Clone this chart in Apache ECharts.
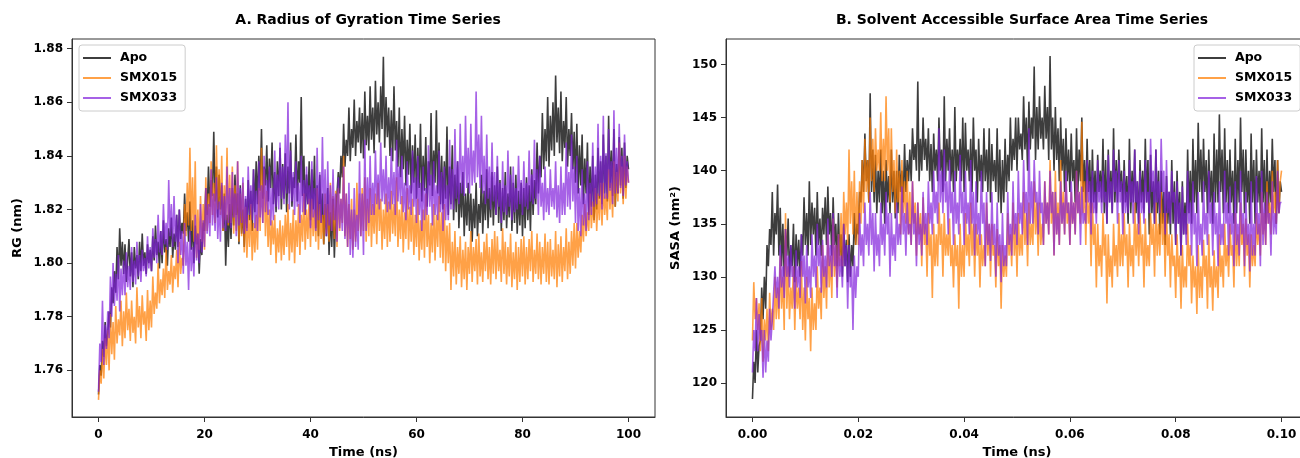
<!DOCTYPE html>
<html>
<head>
<meta charset="utf-8">
<script src="https://cdn.jsdelivr.net/npm/echarts@6/dist/echarts.min.js"></script>
<style>html,body{margin:0;padding:0;background:#fff}#c{width:1300px;height:458px}</style>
</head>
<body>
<div id="c"></div>
<script>
// ---------- DATA ----------
const seriesNames = ['Apo', 'SMX015', 'SMX033'];
const rgStepNs = 0.25;      // sampling step of RG values (ns)
const sasaStepNs = 0.00025; // sampling step of SASA values (ns)
const rgTicksX = [0, 20, 40, 60, 80, 100];
const rgTicksY = [1.76, 1.78, 1.80, 1.82, 1.84, 1.86, 1.88];
const sasaTicksX = [0.00, 0.02, 0.04, 0.06, 0.08, 0.10];
const sasaTicksY = [120, 125, 130, 135, 140, 145, 150];

const rgApo = [
1.751,1.762,1.758,1.771,1.765,1.778,1.769,1.774,1.782,1.776,1.791,1.785,1.797,1.789,1.806,1.794,1.813,1.799,1.808,1.796,
1.807,1.793,1.801,1.809,1.795,1.804,1.791,1.806,1.798,1.803,1.794,1.808,1.797,1.811,1.799,1.804,1.796,1.807,1.800,1.805,
1.797,1.810,1.801,1.814,1.803,1.808,1.798,1.812,1.800,1.816,1.804,1.809,1.799,1.813,1.806,1.817,1.802,1.811,1.805,1.818,
1.806,1.820,1.809,1.815,1.811,1.826,1.812,1.819,1.808,1.823,1.805,1.816,1.800,1.814,1.807,1.811,1.796,1.809,1.803,1.815,
1.812,1.828,1.818,1.836,1.821,1.831,1.825,1.849,1.823,1.836,1.817,1.833,1.820,1.829,1.812,1.826,1.799,1.818,1.806,1.822,
1.809,1.828,1.814,1.833,1.818,1.826,1.807,1.829,1.811,1.820,1.806,1.824,1.813,1.831,1.816,1.827,1.812,1.835,1.819,1.838,
1.822,1.840,1.827,1.850,1.824,1.836,1.829,1.844,1.823,1.839,1.828,1.845,1.822,1.834,1.819,1.838,1.825,1.843,1.820,1.837,
1.824,1.841,1.819,1.836,1.826,1.845,1.821,1.832,1.828,1.848,1.823,1.838,1.830,1.862,1.825,1.840,1.818,1.833,1.822,1.838,
1.816,1.835,1.820,1.840,1.813,1.829,1.810,1.833,1.815,1.826,1.807,1.822,1.810,1.828,1.803,1.819,1.806,1.824,1.802,1.818,
1.818,1.834,1.826,1.840,1.832,1.852,1.836,1.846,1.840,1.858,1.838,1.850,1.843,1.861,1.840,1.853,1.845,1.858,1.841,1.856,
1.839,1.864,1.844,1.855,1.842,1.866,1.846,1.858,1.841,1.868,1.848,1.860,1.845,1.866,1.850,1.877,1.843,1.862,1.847,1.858,
1.840,1.857,1.838,1.866,1.842,1.853,1.836,1.858,1.832,1.850,1.835,1.855,1.829,1.846,1.833,1.852,1.826,1.844,1.830,1.848,
1.824,1.843,1.828,1.852,1.823,1.840,1.827,1.847,1.821,1.838,1.829,1.856,1.825,1.842,1.830,1.857,1.826,1.845,1.822,1.840,
1.820,1.838,1.824,1.851,1.818,1.836,1.822,1.844,1.816,1.833,1.819,1.838,1.813,1.830,1.817,1.834,1.810,1.826,1.814,1.830,
1.812,1.826,1.808,1.824,1.813,1.830,1.810,1.822,1.815,1.833,1.811,1.827,1.816,1.835,1.813,1.828,1.817,1.834,1.814,1.829,
1.818,1.836,1.815,1.831,1.812,1.828,1.816,1.834,1.813,1.826,1.817,1.836,1.812,1.830,1.815,1.833,1.811,1.827,1.814,1.830,
1.810,1.828,1.813,1.832,1.816,1.829,1.812,1.835,1.818,1.831,1.822,1.845,1.826,1.840,1.832,1.856,1.835,1.850,1.838,1.862,
1.836,1.855,1.842,1.860,1.840,1.870,1.845,1.858,1.841,1.864,1.838,1.853,1.843,1.862,1.836,1.850,1.840,1.856,1.835,1.849,
1.830,1.852,1.826,1.844,1.829,1.848,1.822,1.839,1.826,1.845,1.818,1.836,1.821,1.840,1.816,1.833,1.820,1.843,1.824,1.838,
1.822,1.848,1.826,1.840,1.823,1.855,1.828,1.842,1.825,1.850,1.821,1.837,1.826,1.847,1.829,1.843,1.824,1.845,1.828,1.840,
1.835];

const rgSMX015 = [
1.749,1.760,1.755,1.768,1.757,1.772,1.762,1.775,1.760,1.781,1.766,1.778,1.764,1.784,1.770,1.779,1.773,1.786,1.769,1.782,
1.772,1.789,1.775,1.783,1.771,1.786,1.774,1.780,1.770,1.791,1.776,1.784,1.772,1.788,1.777,1.782,1.771,1.790,1.775,1.786,
1.776,1.795,1.781,1.789,1.783,1.800,1.785,1.794,1.788,1.798,1.787,1.806,1.790,1.797,1.792,1.803,1.789,1.799,1.794,1.805,
1.791,1.808,1.796,1.802,1.799,1.822,1.810,1.830,1.814,1.843,1.812,1.832,1.808,1.838,1.802,1.820,1.805,1.825,1.808,1.822,
1.805,1.832,1.812,1.826,1.815,1.838,1.818,1.830,1.815,1.844,1.820,1.835,1.818,1.840,1.812,1.829,1.816,1.843,1.814,1.833,
1.815,1.836,1.811,1.829,1.812,1.838,1.808,1.826,1.810,1.830,1.804,1.821,1.802,1.818,1.806,1.822,1.801,1.815,1.804,1.818,
1.805,1.828,1.812,1.843,1.815,1.835,1.810,1.827,1.806,1.820,1.803,1.816,1.807,1.818,1.800,1.813,1.804,1.816,1.801,1.814,
1.803,1.818,1.806,1.822,1.801,1.815,1.804,1.820,1.800,1.816,1.806,1.822,1.803,1.818,1.808,1.826,1.805,1.820,1.809,1.824,
1.806,1.824,1.810,1.820,1.808,1.828,1.805,1.822,1.809,1.818,1.807,1.826,1.811,1.822,1.808,1.830,1.812,1.825,1.809,1.827,
1.806,1.828,1.812,1.824,1.815,1.840,1.810,1.826,1.806,1.822,1.809,1.824,1.805,1.820,1.808,1.830,1.812,1.826,1.810,1.828,
1.812,1.832,1.808,1.824,1.810,1.828,1.806,1.822,1.811,1.826,1.807,1.830,1.812,1.824,1.805,1.820,1.809,1.826,1.806,1.823,
1.808,1.827,1.811,1.822,1.810,1.832,1.806,1.820,1.809,1.825,1.804,1.819,1.809,1.828,1.805,1.821,1.808,1.824,1.803,1.818,
1.806,1.824,1.801,1.816,1.805,1.820,1.802,1.826,1.806,1.818,1.800,1.815,1.804,1.822,1.801,1.818,1.806,1.825,1.802,1.819,
1.800,1.822,1.797,1.814,1.800,1.815,1.790,1.808,1.795,1.812,1.792,1.806,1.796,1.810,1.791,1.805,1.794,1.808,1.790,1.806,
1.796,1.812,1.793,1.806,1.797,1.809,1.792,1.811,1.795,1.804,1.793,1.808,1.797,1.811,1.794,1.806,1.792,1.809,1.796,1.812,
1.794,1.810,1.797,1.805,1.793,1.813,1.796,1.808,1.792,1.806,1.795,1.811,1.791,1.804,1.794,1.808,1.790,1.806,1.793,1.809,
1.795,1.810,1.792,1.806,1.794,1.809,1.797,1.812,1.793,1.805,1.796,1.811,1.794,1.808,1.792,1.806,1.796,1.811,1.793,1.808,
1.792,1.809,1.795,1.805,1.794,1.812,1.791,1.807,1.795,1.810,1.793,1.806,1.797,1.813,1.794,1.808,1.796,1.812,1.799,1.815,
1.798,1.815,1.802,1.812,1.804,1.818,1.808,1.822,1.810,1.819,1.812,1.826,1.813,1.823,1.815,1.828,1.812,1.826,1.816,1.830,
1.814,1.830,1.818,1.826,1.816,1.835,1.820,1.830,1.817,1.838,1.821,1.834,1.823,1.845,1.826,1.836,1.822,1.840,1.824,1.836,
1.830];

const rgSMX033 = [
1.752,1.770,1.763,1.786,1.762,1.777,1.768,1.782,1.772,1.795,1.780,1.800,1.784,1.796,1.786,1.803,1.782,1.798,1.788,1.801,
1.788,1.804,1.791,1.799,1.790,1.806,1.793,1.801,1.792,1.808,1.795,1.803,1.793,1.805,1.797,1.802,1.795,1.810,1.798,1.806,
1.797,1.813,1.802,1.809,1.800,1.818,1.804,1.812,1.803,1.822,1.807,1.815,1.805,1.831,1.810,1.822,1.806,1.825,1.808,1.818,
1.800,1.820,1.803,1.812,1.796,1.815,1.799,1.808,1.790,1.812,1.797,1.806,1.795,1.818,1.801,1.811,1.800,1.822,1.804,1.816,
1.806,1.828,1.811,1.822,1.810,1.835,1.814,1.826,1.812,1.832,1.809,1.823,1.808,1.830,1.813,1.825,1.812,1.836,1.815,1.828,
1.813,1.834,1.817,1.826,1.810,1.838,1.814,1.828,1.815,1.832,1.811,1.825,1.812,1.836,1.818,1.829,1.816,1.835,1.813,1.827,
1.812,1.838,1.817,1.829,1.815,1.840,1.819,1.831,1.818,1.836,1.814,1.828,1.816,1.842,1.821,1.833,1.820,1.845,1.824,1.836,
1.822,1.848,1.826,1.860,1.820,1.842,1.823,1.834,1.818,1.838,1.821,1.830,1.815,1.840,1.819,1.831,1.818,1.836,1.822,1.829,
1.813,1.838,1.817,1.828,1.812,1.843,1.816,1.834,1.815,1.847,1.818,1.835,1.810,1.838,1.814,1.829,1.812,1.835,1.816,1.826,
1.808,1.832,1.813,1.824,1.812,1.836,1.809,1.826,1.806,1.830,1.803,1.820,1.802,1.828,1.806,1.818,1.805,1.838,1.810,1.826,
1.803,1.846,1.812,1.832,1.815,1.840,1.818,1.830,1.818,1.842,1.822,1.833,1.820,1.845,1.823,1.835,1.822,1.840,1.819,1.832,
1.820,1.843,1.822,1.834,1.818,1.846,1.823,1.836,1.822,1.840,1.819,1.830,1.816,1.838,1.820,1.829,1.818,1.842,1.821,1.832,
1.815,1.840,1.818,1.830,1.812,1.836,1.816,1.828,1.818,1.844,1.821,1.833,1.814,1.838,1.818,1.829,1.816,1.842,1.819,1.834,
1.812,1.836,1.816,1.829,1.816,1.846,1.820,1.835,1.820,1.850,1.824,1.838,1.822,1.852,1.826,1.840,1.825,1.855,1.828,1.843,
1.826,1.852,1.829,1.842,1.830,1.864,1.832,1.848,1.828,1.855,1.826,1.840,1.822,1.848,1.824,1.836,1.820,1.845,1.823,1.834,
1.818,1.840,1.821,1.830,1.815,1.838,1.819,1.829,1.818,1.842,1.821,1.833,1.816,1.836,1.819,1.828,1.820,1.840,1.822,1.831,
1.818,1.838,1.821,1.830,1.820,1.842,1.823,1.833,1.822,1.846,1.824,1.835,1.818,1.840,1.821,1.830,1.816,1.836,1.819,1.828,
1.818,1.835,1.821,1.828,1.820,1.838,1.817,1.829,1.815,1.836,1.818,1.830,1.818,1.845,1.821,1.834,1.820,1.848,1.823,1.836,
1.815,1.840,1.812,1.828,1.810,1.835,1.814,1.826,1.812,1.838,1.816,1.830,1.818,1.845,1.821,1.836,1.822,1.852,1.825,1.840,
1.820,1.855,1.824,1.841,1.824,1.850,1.827,1.838,1.822,1.857,1.826,1.843,1.826,1.852,1.828,1.840,1.825,1.848,1.829,1.838,
1.830];

const sasaApo = [
118.5,122,120,125,121,123.5,124,129,126,130,127,133,131,134.5,133,138,132,136,134,138.7,
132,136.5,131,135,130,134.5,132,135.5,130,133,131,135,129.5,134,131,133.5,130,134,132,137.5,
133,136,132,139,133,137,134,136.5,132,138,133,135.5,132,136.5,134,137.5,133,138.5,134,136,
132,137.5,133,135,131,136,132,134,130,135,131,133.5,129.5,134,130,133,131,136,133,135,
134,138,137,141,138,143.5,139,141,137,147.3,138,142,137,141.5,136,140,137,142,136,140,
135,141,137,139.5,136,142,137,140,135.5,140,136,141.5,138,140,137,142.5,138,141,139,142,
139,144,141,142.5,140,148.4,139,143,140,145,141,143,140,144,139,142.5,138,143.5,140,142,
139,145,140,142,138,147,139,143,140,144,139,142,138,146,139,142,140,143,139,145,
138,144.5,140,142,139,143,138,145,140,142,137,143,139,141.5,138,144,139,142,138,144,
137,142.5,139,141,138,144,137,142,136,141,137,143,138,141.5,139,145,140,143,141,145,
140,145,142,143.5,141,147,142,145,140,146.5,142,145,143,149.8,141,146,142,147,143,145,
142,148,143,146,141,150.8,142,145,140,146,141,144,139,145,140,143,138,144,139,142,
138,143.5,139,141,137,144,138,142,139,145,138,141,137,143,138,141,136,142,137,140,
136,141.5,138,140,137,143,136,141,135,142,137,140,136,144,137,141,137,142,138,140,
136,141,137,139.5,135,143,136,140,137,142,136,139,135,141,137,140,136,143,137,141,
134,141.5,136,139,135,142,136,140,134,140,135,138,133,139.5,135,138,134,141,135,139,
133,140,135,138,132,139,134,137,134,142,136,140,135,143,137,141,136,144.5,138,142,
137,143,138,141,136,142,137,140,135,143.5,137,142,137,145.3,138,142,136,144,137,141,
136,142,137,140,135,143,136,141,137,145,138,142,136,142,137,140,135,143.5,137,141,
135,142,137,140,136,144,137,141,135,142,136,140,137,143,138,141,135,141,136,139,
138];

const sasaSMX015 = [
124,129.5,126,128,125,127.5,123,128,122,126,124,127,123,128.5,125,127,125,130,126,129,
126,132,127,130,125,136,127,131,126,129,127,131,125,130,127,129,126,131.5,125,129,
124,130,126,128,123,129,125,127.5,125,131,127,129,126,133,128,131,127,134,129,132,
128,135.5,130,133,129,134,131,136,131,138,134,137,133,142,135,139,134,140,133,138,
133,139,135,141,136,143,138,141,137,145,139,143,138,144,140,142,140,145.5,139,143,
139,147,140,144,137,144,138,141,136,142,137,140,134,141,136,139,135,140,134,138,
133,139,135,137,132,137,134,136,131,137.5,133,135,130,136,132,134,128,135,131,134,
131,137,133,135,130,136,132,134,132,135.5,131,133,129,134,131,133,127,135,130,133,
130,136,132,134,131,137,132,135,130,135,132,134,129,134,131,133,131,137,132,135,
130,135,132,133,129,134.5,131,133,127,133,130,132,130,136,132,134,131,137,132,135,
130,136,132,134,132,138,133,136,131,137,133,135,133,139,134,137,132,137,133,135,
133,139,135,137,134,141,135,138,132,140,134,137,133,141,135,138,134,139,135,137,
133,138,135,137,134,140,136,138,135,144.6,136,139,133,139,135,137,131,137,133,135,
129,135,131,133,130,136,132,134,127.5,134,130,132,129,135,131,133,130,136,131,134,
131,136,132,134,129,135,131,133,130,137,132,135,131,136,132,134,129,135.5,131,133,
131,136,133,135,130,137,132,135,132,138,133,136,130,136,132,134,129,134,131,132,
128,134,130,132,127,133,129,131,129,135,131,133,127.5,132,129,131,126.5,133,128,131,
128,133.5,130,132,127,134,129,131,126.8,132.5,129,131,128,134,130,132,129,135,131,133,
130,135,132,133,129,136,131,134,131,137,133,135,130,135.5,132,134,129,134,131,133,
131,136,133,135,132,138,134,136,133,139,135,137,134,140,136,138,135,141,136,139,
140];

const sasaSMX033 = [
121,125,123,128,123,126.5,124,125,120.5,125,121,124,122,127,124,126,126,131,128,130,
127,133,129,131,128,134.5,130,132,129,133,130,131,127,132.5,129,131,128,134,130,132,
127.5,133,129,131,128,134,130,132,129,135,131,133,128.5,133.5,130,132,129,135.5,131,133,
130,136,131,133,128,134,130,132,129,135,131,133,127,133,129,131,125,132,128,131,
130,136,132,134,131,137,133,135,132,138,133,136,130.5,136,132,134,131,137,133,135,
132,138,134,136,130,136,132,134,131.5,137,133,135,133,138.5,134,136,132,137,134,135,
133,139,134,136,131,137,133,135,132,138,134,136,133,139,135,137,134,140,136,138,
135,144,137,140,136,142,137,139,134,141,136,138,133,140,135,137,134,141.5,136,138,
133,140,135,137,134,141,135,138,132,139,134,136,133,140,135,137,131,138,133,135,
131.5,138,133,135,130,137,132,134,129.5,136,131,133,131,138,133,135,132,139,134,136,
133,140,135,137,134,141,136,138,133,144,135,139,135,141,137,138,134,140,136,137,
133,139,135,137,134,140,136,138,132,138,134,136,133,139,135,137,134,140,136,137,
133,139,135,137,134,140,136,138,133,138.5,135,136,135,141,137,139,134,140,136,138,
135,141,137,139,136,140,137,138,135,141.5,137,139,136,142,138,140,135,141,137,139,
134,140,136,138,136,141,137,139,135,142,137,139,134,140,136,138,135,141,137,138,
136,143,138,140,135,142,137,139,136,143,138,140,134,141,136,138,135,140,137,138,
133,139,135,137,132,138.5,134,136,133,140,135,137,132,139,134,136,131,138,133,135,
132,139,134,136,133,140,135,137,132,138,134,136,131,139,133,135,133,140,135,137,
132,138.5,134,136,131,139,133,135,132,140,134,136,131,138,133,135,130.5,139,132,135,
132,139.5,134,136,131,140,133,137,133,138,135,136,132,139,134,136,134,140,136,137,
137];

// ---------- BUILD ----------
const colors = ['rgba(0,0,0,0.76)', 'rgba(255,125,0,0.72)', 'rgba(128,30,220,0.7)'];
function pairs(vals, step) { return vals.map((v, i) => [+(i * step).toFixed(6), v]); }
const FONT = 'DejaVu Sans';
const tickLabel = { color: '#000', fontFamily: FONT, fontWeight: 'bold', fontSize: 12 };
const nameStyle = { color: '#000', fontFamily: FONT, fontWeight: 'bold', fontSize: 13 };

function mkSeries(name, data, idx, axisIdx) {
  return {
    name, type: 'line', data, xAxisIndex: axisIdx, yAxisIndex: axisIdx,
    showSymbol: false, symbol: 'none', sampling: null, animation: false,
    color: colors[idx],
    lineStyle: { color: colors[idx], width: 1.6 },
    emphasis: { disabled: true }, z: 2 + idx
  };
}

const legendCommon = {
  orient: 'vertical', icon: 'rect', itemWidth: 28, itemHeight: 2, itemGap: 6,
  borderColor: '#cccccc', borderWidth: 1, borderRadius: 3, backgroundColor: 'rgba(255,255,255,0.8)',
  padding: [6, 8, 6, 4],
  textStyle: { color: '#000', fontFamily: FONT, fontWeight: 'bold', fontSize: 12.5, lineHeight: 14, padding: [0, 0, 0, 4] },
  data: seriesNames, selectedMode: false
};

function axisLine() { return { show: true, onZero: false, lineStyle: { color: '#333' } }; }

const option = {
  animation: false,
  backgroundColor: '#fff',
  title: [
    { text: 'A. Radius of Gyration Time Series', left: 363, top: 8, textAlign: 'center',
      textStyle: { fontFamily: FONT, fontWeight: 'bold', fontSize: 14, color: '#000' } },
    { text: 'B. Solvent Accessible Surface Area Time Series', left: 1017, top: 8, textAlign: 'center',
      textStyle: { fontFamily: FONT, fontWeight: 'bold', fontSize: 14, color: '#000' } }
  ],
  legend: [
    Object.assign({ left: 79, top: 45 }, legendCommon),
    Object.assign({ left: 1194, top: 45 }, legendCommon)
  ],
  grid: [
    { left: 72, top: 39, width: 583, height: 378, show: true, borderColor: '#333', borderWidth: 1,
      backgroundColor: 'transparent', containLabel: false, outerBoundsMode: 'none' },
    { left: 726, top: 39, width: 582, height: 378, show: true, borderColor: '#333', borderWidth: 1,
      backgroundColor: 'transparent', containLabel: false, outerBoundsMode: 'none' }
  ],
  xAxis: [
    { type: 'value', gridIndex: 0, min: -5, max: 105,
      name: 'Time (ns)', nameLocation: 'middle', nameGap: 29, nameTextStyle: nameStyle,
      axisLine: axisLine(),
      axisTick: { show: true, length: 5, customValues: rgTicksX, lineStyle: { color: '#333' } },
      axisLabel: Object.assign({ margin: 12, customValues: rgTicksX, formatter: v => String(v) }, tickLabel),
      splitLine: { show: false } },
    { type: 'value', gridIndex: 1, min: -0.005, max: 0.105,
      name: 'Time (ns)', nameLocation: 'middle', nameGap: 29, nameTextStyle: nameStyle,
      axisLine: axisLine(),
      axisTick: { show: true, length: 5, customValues: sasaTicksX, lineStyle: { color: '#333' } },
      axisLabel: Object.assign({ margin: 12, customValues: sasaTicksX, formatter: v => v.toFixed(2) }, tickLabel),
      splitLine: { show: false } }
  ],
  yAxis: [
    { type: 'value', gridIndex: 0, min: 1.7426, max: 1.8836,
      name: 'RG (nm)', nameLocation: 'middle', nameGap: 48, nameRotate: 90, nameTextStyle: nameStyle,
      axisLine: axisLine(),
      axisTick: { show: true, length: 5, customValues: rgTicksY, lineStyle: { color: '#333' } },
      axisLabel: Object.assign({ margin: 9, customValues: rgTicksY, formatter: v => v.toFixed(2) }, tickLabel),
      splitLine: { show: false } },
    { type: 'value', gridIndex: 1, min: 116.8, max: 152.4,
      name: 'SASA (nm²)', nameLocation: 'middle', nameGap: 44, nameRotate: 90, nameTextStyle: nameStyle,
      axisLine: axisLine(),
      axisTick: { show: true, length: 5, customValues: sasaTicksY, lineStyle: { color: '#333' } },
      axisLabel: Object.assign({ margin: 9, customValues: sasaTicksY, formatter: v => String(Math.round(v)) }, tickLabel),
      splitLine: { show: false } }
  ],
  series: [
    mkSeries('Apo', pairs(rgApo, rgStepNs), 0, 0),
    mkSeries('SMX015', pairs(rgSMX015, rgStepNs), 1, 0),
    mkSeries('SMX033', pairs(rgSMX033, rgStepNs), 2, 0),
    mkSeries('Apo', pairs(sasaApo, sasaStepNs), 0, 1),
    mkSeries('SMX015', pairs(sasaSMX015, sasaStepNs), 1, 1),
    mkSeries('SMX033', pairs(sasaSMX033, sasaStepNs), 2, 1)
  ]
};
const chart = echarts.init(document.getElementById('c'), null, { renderer: 'canvas' });
chart.setOption(option);
</script>
</body>
</html>
